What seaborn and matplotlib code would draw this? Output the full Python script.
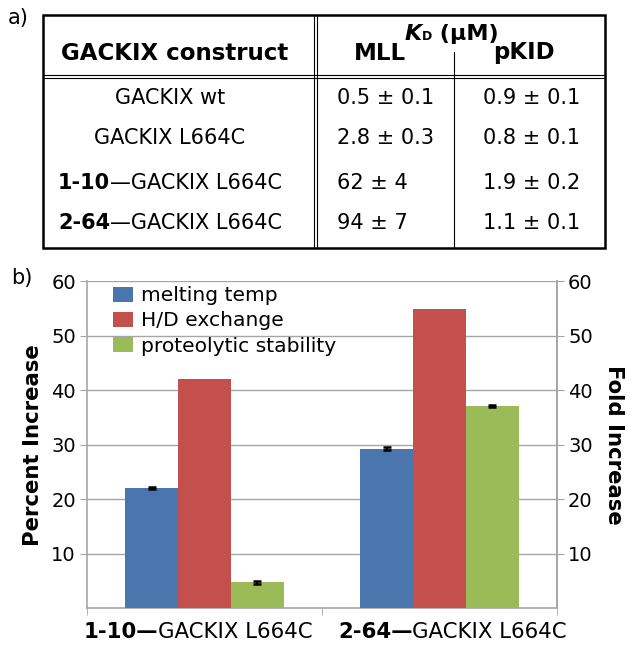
import numpy as np
import matplotlib
matplotlib.use("Agg")
import matplotlib.pyplot as plt
import matplotlib.patches as mpatches
from matplotlib.offsetbox import TextArea, HPacker, AnnotationBbox
import pandas as pd
import seaborn as sns


# ---- panel a) table data
row_bold = ["", "", "1-10", "2-64"]
row_rest = ["GACKIX wt", "GACKIX L664C", "—GACKIX L664C", "—GACKIX L664C"]
kd_mll = ["0.5 ± 0.1", "2.8 ± 0.3", "62 ± 4", "94 ± 7"]
kd_pkid = ["0.9 ± 0.1", "0.8 ± 0.1", "1.9 ± 0.2", "1.1 ± 0.1"]

# ---- panel b) bar data
groups = ["1-10", "2-64"]
group_rest = "GACKIX L664C"
measures = ["melting temp", "H/D exchange", "proteolytic stability"]
melting_temp = [22.0, 29.3]
hd_exchange = [42.0, 55.0]
proteolytic = [4.7, 37.1]
melting_err = [0.2, 0.2]
proteolytic_err = [0.2, 0.15]

colors = ["#4a76ad", "#c4504e", "#9bbb59"]
grey = "#a6a6a6"

sns.set_style("white")
plt.rcParams["font.family"] = ["DejaVu Sans"]
plt.rcParams["text.color"] = "black"
plt.rcParams["axes.labelcolor"] = "black"
plt.rcParams["xtick.color"] = "black"
plt.rcParams["ytick.color"] = "black"

fig = plt.figure(figsize=(6.32, 6.5), dpi=100)

# overlay in pixel coordinates for the table and panel letters
ov = fig.add_axes([0, 0, 1, 1])
ov.set_xlim(0, 632)
ov.set_ylim(650, 0)
ov.axis("off")
ov.patch.set_alpha(0)

ov.text(18, 18, "a)", fontsize=15, ha="center", va="center")
ov.text(22, 278, "b)", fontsize=15, ha="center", va="center")

# table frame
ov.add_patch(mpatches.Rectangle((43, 15), 562, 233, fill=False, lw=1.8, ec="black"))
for yy in (75, 78):
    ov.plot([43, 605], [yy, yy], color="black", lw=0.8)
for xx in (314, 317):
    ov.plot([xx, xx], [15, 248], color="black", lw=0.8)
ov.plot([454, 454], [52, 248], color="black", lw=0.8)

# header
ov.text(175, 53, "GACKIX construct", fontsize=16.5, fontweight="bold", ha="center", va="center")
ov.text(380, 53, "MLL", fontsize=16.5, fontweight="bold", ha="center", va="center")
ov.text(524, 53, "pKID", fontsize=16.5, fontweight="bold", ha="center", va="center")
kd = HPacker(children=[
    TextArea("K", textprops=dict(fontsize=16, fontweight="bold", fontstyle="italic")),
    TextArea("D", textprops=dict(fontsize=9, fontweight="bold")),
    TextArea(" (μM)", textprops=dict(fontsize=16, fontweight="bold")),
], pad=0, sep=0, align="baseline")
ov.add_artist(AnnotationBbox(kd, (452, 34), xycoords="data", box_alignment=(0.5, 0.5),
                             frameon=False, pad=0))

# rows
row_y = [98, 138, 183, 223]
for b, r, m, p, yy in zip(row_bold, row_rest, kd_mll, kd_pkid, row_y):
    kids = []
    if b:
        kids.append(TextArea(b, textprops=dict(fontsize=15, fontweight="bold")))
    kids.append(TextArea(r, textprops=dict(fontsize=15)))
    box = HPacker(children=kids, pad=0, sep=0, align="baseline")
    ov.add_artist(AnnotationBbox(box, (170, yy), xycoords="data", box_alignment=(0.5, 0.5),
                                 frameon=False, pad=0))
    ov.text(337, yy, m, fontsize=15, ha="left", va="center")
    ov.text(483, yy, p, fontsize=15, ha="left", va="center")

# ---- bar chart
df = pd.DataFrame({
    "construct": groups * 3,
    "measure": np.repeat(measures, len(groups)),
    "value": melting_temp + hd_exchange + proteolytic,
})

ax = fig.add_axes([87 / 632, 42 / 650, 470 / 632, 326.5 / 650])
sns.barplot(data=df, x="construct", y="value", hue="measure", hue_order=measures,
            palette=colors, width=0.675, gap=0, errorbar=None, saturation=1,
            linewidth=0, ax=ax, zorder=3)

for cont, errs in ((ax.containers[0], melting_err), (ax.containers[2], proteolytic_err)):
    xs = [bar.get_x() + bar.get_width() / 2 for bar in cont]
    ys = [bar.get_height() for bar in cont]
    ax.errorbar(xs, ys, yerr=errs, fmt="none", ecolor="black", elinewidth=1.5,
                capsize=3, capthick=1.8, zorder=4)

ax.set_ylim(0, 60)
ax.set_xlim(-0.5, 1.5)
ax.set_yticks(range(10, 61, 10))
ax.yaxis.grid(True, color=grey, lw=1)
ax.set_axisbelow(True)
ax.tick_params(axis="y", length=5, color=grey, labelcolor="black", labelsize=14, pad=3,
               direction="out", left=True)
ax.set_xticks([0, 1])
ax.set_xticklabels(["", ""])
ax.set_xticks([-0.5, 0.5, 1.5], minor=True)
ax.tick_params(axis="x", which="major", length=0)
ax.tick_params(axis="x", which="minor", length=5, color=grey, direction="out", bottom=True)
for s in ("left", "right", "bottom"):
    ax.spines[s].set_color(grey)
    ax.spines[s].set_linewidth(1.2)
ax.spines["top"].set_visible(False)
ax.set_xlabel("")
ax.set_ylabel("Percent Increase", fontsize=15.3, fontweight="bold", labelpad=6)

ax2 = ax.twinx()
ax2.set_ylim(0, 60)
ax2.set_yticks(range(10, 61, 10))
ax2.tick_params(axis="y", length=5, color=grey, labelcolor="black", labelsize=14, pad=3,
                direction="out", right=True)
for s in ("left", "top", "bottom"):
    ax2.spines[s].set_visible(False)
ax2.spines["right"].set_color(grey)
ax2.spines["right"].set_linewidth(1.2)
ax2.set_ylabel("Fold Increase", fontsize=15.3, fontweight="bold", rotation=270,
               va="bottom", labelpad=8)

# x labels with bold prefix
label_shift = [-6, 13]
for i, (g, dx) in enumerate(zip(groups, label_shift)):
    box = HPacker(children=[
        TextArea(g + "—", textprops=dict(fontsize=15.3, fontweight="bold")),
        TextArea(group_rest, textprops=dict(fontsize=15.3)),
    ], pad=0, sep=0, align="baseline")
    ax.add_artist(AnnotationBbox(box, (i, 0), xycoords=ax.get_xaxis_transform(),
                                 xybox=(dx * 0.72, -10), boxcoords="offset points",
                                 box_alignment=(0.5, 1), frameon=False, pad=0,
                                 annotation_clip=False))

sns.move_legend(ax, "upper left", bbox_to_anchor=(0.055, 0.985), frameon=False, title=None,
                fontsize=14.6, handlelength=1.0, handleheight=0.8, handletextpad=0.4,
                labelspacing=0.3, borderpad=0, borderaxespad=0)

fig.savefig("out.png", dpi=100)
